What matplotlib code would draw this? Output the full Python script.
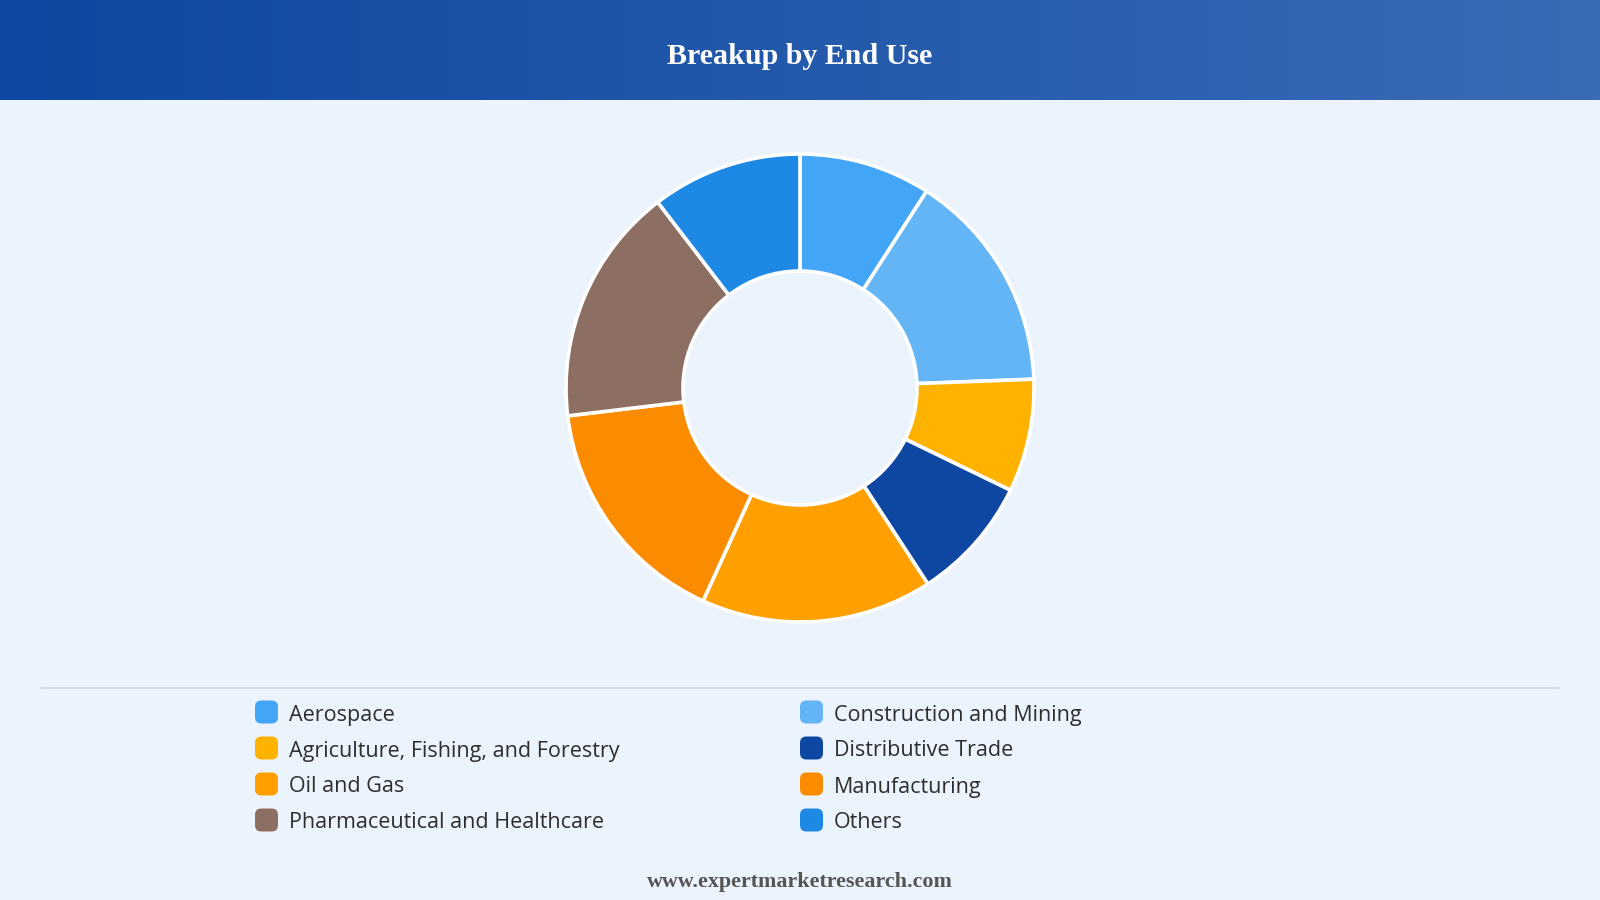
import numpy as np
import matplotlib.pyplot as plt
from matplotlib.patches import FancyBboxPatch
from matplotlib.colors import LinearSegmentedColormap

# Datos (en %)
labels = ['Aerospace', 'Construction and Mining', 'Agriculture, Fishing, and Forestry',
          'Distributive Trade', 'Oil and Gas', 'Manufacturing',
          'Pharmaceutical and Healthcare', 'Others']
shares = [9.1, 15.3, 7.8, 8.6, 16.0, 16.3, 16.5, 10.4]
colors = ['#42A5F5', '#64B5F6', '#FFB300', '#0D47A1', '#FFA000', '#FB8C00',
          '#8D6E63', '#1E88E5']

W, H = 1600, 900
BG = '#EBF3FC'

fig = plt.figure(figsize=(16, 9), dpi=100, facecolor=BG)

# Cabecera con degradado
hdr = fig.add_axes([0, 1 - 100 / H, 1, 100 / H])
cmap = LinearSegmentedColormap.from_list('hdr', ['#0D47A1', '#3A6BB5'])
hdr.imshow(np.linspace(0, 1, 256).reshape(1, -1), aspect='auto', cmap=cmap,
           extent=[0, 1, 0, 1])
hdr.set_axis_off()
hdr.text(0.5, 0.43, 'Breakup by End Use', color='white', ha='center', va='center',
         fontsize=21.6, fontweight='bold', family='Liberation Serif')

# Donut
cx, cy, r = 800, 388, 234
ax = fig.add_axes([(cx - r) / W, 1 - (cy + r) / H, 2 * r / W, 2 * r / H])
ax.pie(shares, colors=colors, startangle=90, counterclock=False, radius=1,
       wedgeprops=dict(width=0.5, edgecolor='white', linewidth=2.6))
ax.set_xlim(-1.0, 1.0)
ax.set_ylim(-1.0, 1.0)
ax.set_aspect('equal')
ax.set_axis_off()

# Línea separadora
fig.add_artist(plt.Line2D([41 / W, 1559 / W], [1 - 688 / H, 1 - 688 / H],
                          color='#D3D8DE', linewidth=1.2))

# Leyenda en dos columnas
col_x = [255, 800]
row_y = [712, 748, 784, 820]
sq = 23
for i, (lab, c) in enumerate(zip(labels, colors)):
    x0 = col_x[i % 2]
    y0 = row_y[i // 2]
    box = FancyBboxPatch(((x0) / W, 1 - (y0 + sq / 2) / H), sq / W, sq / H,
                         boxstyle='round,pad=0,rounding_size=0.004',
                         transform=fig.transFigure, facecolor=c, edgecolor='none',
                         mutation_aspect=W / H)
    fig.add_artist(box)
    fig.text((x0 + 34) / W, 1 - (y0 + 3) / H, lab, ha='left', va='center',
             fontsize=15.5, color='#2E2E2E', family='Open Sans')

# Pie de página
fig.text(0.5, 1 - 882 / H, 'www.expertmarketresearch.com', ha='center', va='center',
         fontsize=15.8, fontweight='bold', color='#555555', family='Liberation Serif')

fig.savefig('out.png', dpi=100, facecolor=BG)
